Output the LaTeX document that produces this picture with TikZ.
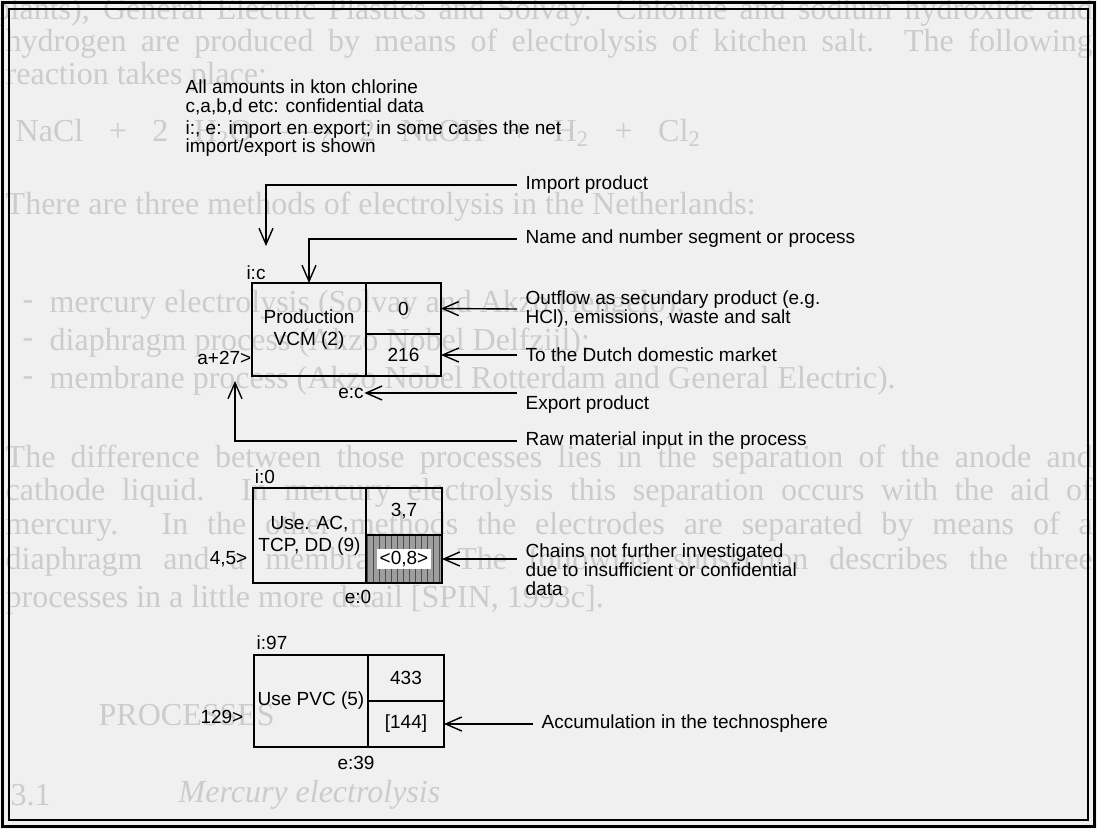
\documentclass[tikz,border=0pt]{standalone}
\usepackage{fontspec}
\setmainfont{Liberation Sans}
\newfontfamily\scanfont{Liberation Serif}
\usepackage{tikz}
\usetikzlibrary{arrows.meta,calc,patterns}
\setlength{\fboxsep}{1.2pt}

\tikzset{
  cell/.style={draw,line width=0.7pt,inner sep=0pt,outer sep=0pt,align=center},
  lbl/.style={anchor=west,inner xsep=4pt,inner ysep=0pt,align=left,font=\fontsize{9.5}{9.5}\selectfont},
  note/.style={anchor=west,inner sep=0pt},
  tag/.style={inner sep=0pt},
  ghost/.style={anchor=west,inner sep=0pt,text=black!20,font=\scanfont\fontsize{16}{17}\selectfont},
}

\begin{document}
\begin{tikzpicture}[x=0.5pt,y=-0.5pt,>={Straight Barb[length=8pt,width=7pt]},line width=0.7pt,font=\fontsize{9.5}{11}\selectfont]

% ---------------- scanned page behind the legend ----------------
\fill[black!6] (0,0) rectangle (1097,829);
\useasboundingbox (0,0) rectangle (1097,829);

\node[ghost] (pg1) at (-6,12) {\makebox[549pt][s]{plants), General Electric Plastics and Solvay. Chlorine and sodium hydroxide and}};
\node[ghost] (pg2) at (5,44) {\makebox[543.5pt][s]{hydrogen are produced by means of electrolysis of kitchen salt. The following}};
\node[ghost] (pg3) at (5,77) {reaction takes place:};
\node[ghost] (pg4) at (15,133) {\makebox[342.5pt][s]{NaCl + 2 H\textsubscript{2}O $\longrightarrow$ 2 NaOH + H\textsubscript{2} + Cl\textsubscript{2}}};
\node[ghost] (pg5) at (5,207) {There are three methods of electrolysis in the Netherlands:};
\node[ghost] (pg6) at (22,305) {-};
\node[ghost] (pg7) at (49,305) {mercury electrolysis (Solvay and Akzo Hengelo);};
\node[ghost] (pg8) at (22,343) {-};
\node[ghost] (pg9) at (49,343) {diaphragm process (Akzo Nobel Delfzijl);};
\node[ghost] (pg10) at (22,381) {-};
\node[ghost] (pg11) at (49,381) {membrane process (Akzo Nobel Rotterdam and General Electric).};
\node[ghost] (pg12) at (5,460) {\makebox[543.5pt][s]{The difference between those processes lies in the separation of the anode and}};
\node[ghost] (pg13) at (5,493) {\makebox[543.5pt][s]{cathode liquid. In mercury electrolysis this separation occurs with the aid of}};
\node[ghost] (pg14) at (5,527) {\makebox[543.5pt][s]{mercury. In the other methods the electrodes are separated by means of a}};
\node[ghost] (pg15) at (5,562) {\makebox[543.5pt][s]{diaphragm and a membrane. The following subsection describes the three}};
\node[ghost] (pg16) at (5,600) {processes in a little more detail [SPIN, 1993c].};
\node[ghost] (pg17) at (98,715) {PROCESSES};
\node[ghost] (pg18) at (10,795) {3.1};
\node[ghost] (pg19) at (178,795) {\itshape Mercury electrolysis};

% ---------------- frame ----------------
\draw[line width=1.5pt] (2.5,2.5) rectangle (1094.5,826.5);
\draw[line width=0.6pt] (9,9) rectangle (1088,820);

% ---------------- notes ----------------
\node[note] (nt1) at (185,87) {All amounts in kton chlorine};
\node[note] (nt2) at (185,107) {c,a,b,d etc: confidential data};
\node[note] (nt3) at (185,130) {i:, e: import en export; in some cases the net};
\node[note] (nt4) at (185,148) {import/export is shown};

% ---------------- Production VCM ----------------
\node[cell,minimum width=57pt,minimum height=46.5pt] (prod) at (309,329.5) {Production\\VCM (2)};
\node[cell,minimum width=37.5pt,minimum height=25.5pt,anchor=north west] (prodOut) at (prod.north east) {0};
\node[cell,minimum width=37.5pt,minimum height=21pt,anchor=north west] (prodDom) at (prodOut.south west) {216};

\node[tag] (ic) at (256,273) {i:c};
\node[tag,anchor=east] (ain) at (252,358) {a+27>};
\node[tag] (ec) at (351,393) {e:c};

% ---------------- Use AC, TCP, DD ----------------
\node[cell,minimum width=56.5pt,minimum height=47.5pt] (use) at (309.5,535.5) {Use. AC,\\TCP, DD (9)};
\node[cell,minimum width=38pt,minimum height=23.5pt,anchor=north west] (useOut) at (use.north east) {3,7};
\node[cell,minimum width=38pt,minimum height=24pt,anchor=north west,
      preaction={fill=black!38},pattern=vertical lines,pattern color=black!70] (useCut) at (useOut.south west) {\colorbox{white}{<0,8>}};

\node[tag] (i0) at (265,477) {i:0};
\node[tag,anchor=east] (bin) at (248,559) {4,5>};
\node[tag] (e0) at (358,597) {e:0};

% ---------------- Use PVC ----------------
\node[cell,minimum width=57pt,minimum height=46pt] (pvc) at (311,701) {Use PVC (5)};
\node[cell,minimum width=38pt,minimum height=23pt,anchor=north west] (pvcOut) at (pvc.north east) {433};
\node[cell,minimum width=38pt,minimum height=23pt,anchor=north west] (pvcAcc) at (pvcOut.south west) {[144]};

\node[tag] (i97) at (272,643) {i:97};
\node[tag,anchor=east] (cin) at (244,717) {129>};
\node[tag] (e39) at (356,763) {e:39};

% ---------------- legend labels ----------------
\node[lbl] (import) at (517,185) {Import product};
\node[lbl] (name) at (517,239) {Name and number segment or process};
\node[lbl] (outfl) at (517,309) {Outflow as secundary product (e.g.\\HCl), emissions, waste and salt};
\node[lbl] (dom) at (517,355) {To the Dutch domestic market};
\node[lbl] (export) at (517,405) {Export product};
\node[lbl] (raw) at (517,441) {Raw material input in the process};
\node[lbl] (chains) at (517,570) {Chains not further investigated\\due to insufficient or confidential\\data};
\node[lbl] (accu) at (533,724) {Accumulation in the technosphere};

\coordinate (impEnd) at (266,246);
\coordinate (rawEnd) at (235,381);

\draw[->] (import.west) -| (impEnd);
\draw[->] (name.west) -| (prod.north);
\draw[->] (outfl.west) -- (prodOut.east);
\draw[->] (dom.west) -- (prodDom.east);
\draw[->] (export.west |- ec.east) -- (ec.east);
\draw[->] (raw.west) -| (rawEnd);
\draw[->] (chains.west |- useCut.east) -- (useCut.east);
\draw[->] (accu.west) -- (pvcAcc.east);

\end{tikzpicture}
\end{document}
